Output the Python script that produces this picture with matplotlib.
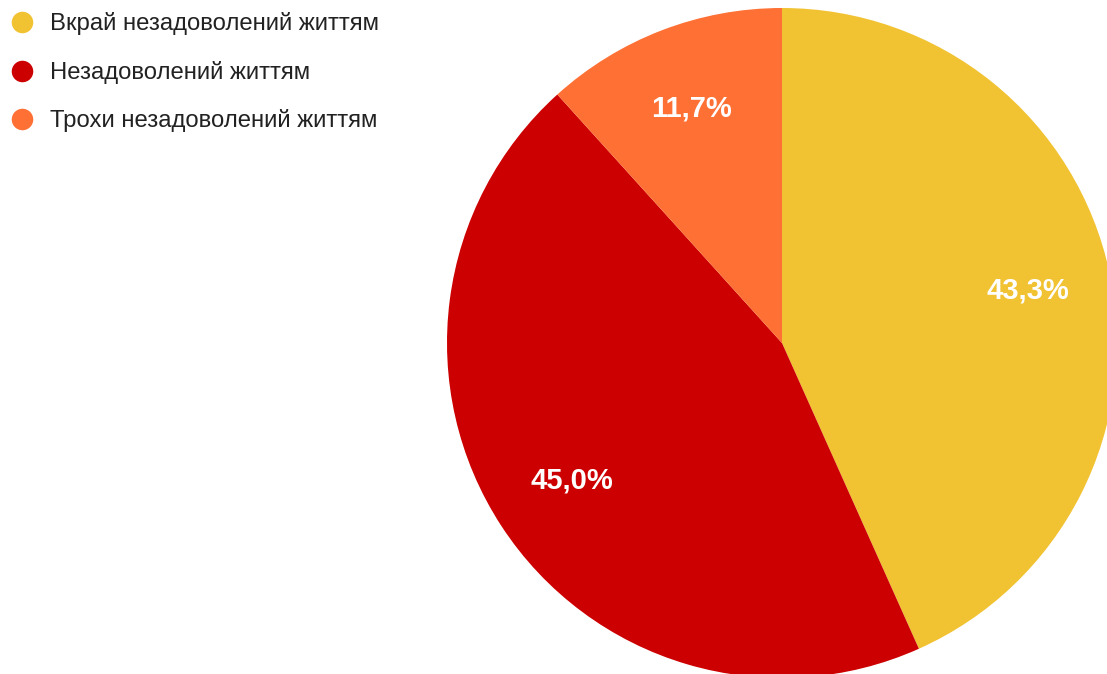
import matplotlib
matplotlib.use("Agg")
import matplotlib.pyplot as plt

plt.rcParams['font.family'] = ['Liberation Sans', 'DejaVu Sans']

categories = ["Вкрай незадоволений життям", "Незадоволений життям", "Трохи незадоволений життям"]
shares = [43.3, 45.0, 11.7]
colors = ["#F1C232", "#CC0000", "#FF7034"]

W, H = 1107, 674
fig = plt.figure(figsize=(W / 100, H / 100), dpi=100)
ax = fig.add_axes([0, 0, 1, 1])

cx, cy, r = 782, H - 343, 335


def fmt(p):
    return f"{p:.1f}".replace('.', ',') + '%'


wedges, texts, autotexts = ax.pie(
    shares, colors=colors, startangle=90, counterclock=False,
    center=(cx, cy), radius=r, autopct=fmt, pctdistance=0.75,
    wedgeprops=dict(linewidth=0), frame=True,
    textprops=dict(color='white', fontsize=21, fontweight='bold'))
ax.set_xlim(0, W)
ax.set_ylim(0, H)
ax.set_aspect('equal')
ax.axis('off')

# legend drawn as colored dots with labels in the top-left corner
for i, (lab, col) in enumerate(zip(categories, colors)):
    y = H - (22 + 48.5 * i)
    ax.plot(22, y, 'o', ms=15.5, color=col, mec='none', clip_on=False)
    ax.text(50, y - 1.5, lab, va='center', ha='left', fontsize=17.2, color='#222222')

fig.savefig("out.png", dpi=100)
